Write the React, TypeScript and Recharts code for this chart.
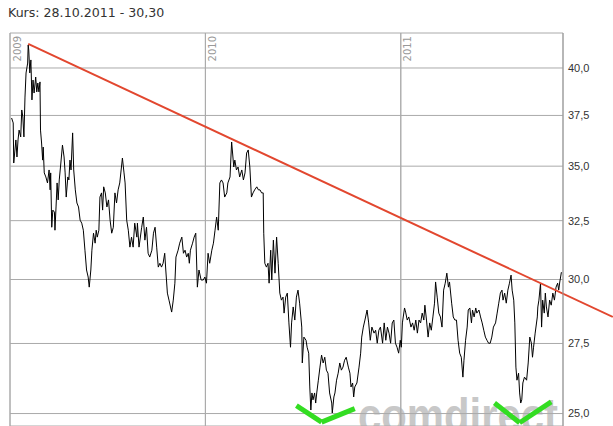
import React from "react";
import { LineChart, Line, XAxis, YAxis, CartesianGrid, ReferenceLine } from "recharts";

// days counted from 01.01.2009
const priceDays = [
  3, 6, 7, 11, 13, 15, 17, 20, 22, 24, 26, 28, 30, 33, 34, 35, 37, 39, 41, 43, 45, 48, 50, 52, 54, 56, 57, 59, 61, 62,
  64, 67, 70, 73, 75, 76, 78, 80, 83, 84, 86, 88, 90, 92, 95, 98, 101, 103, 105, 108, 110, 112, 114, 117, 119, 122, 125,
  128, 131, 134, 137, 140, 143, 146, 148, 151, 153, 156, 159, 161, 163, 166, 168, 171, 173, 175, 178, 181, 184, 187, 190,
  193, 196, 199, 202, 205, 209, 210, 213, 215, 218, 221, 224, 227, 230, 233, 237, 238, 241, 246, 249, 252, 255, 258, 261,
  265, 268, 271, 274, 277, 280, 283, 286, 289, 291, 294, 297, 302, 305, 308, 310, 314, 317, 321, 324, 327, 330, 333, 335,
  337, 341, 344, 347, 350, 353, 357, 361, 364, 367, 370, 373, 377, 380, 383, 386, 389, 392, 395, 398, 401, 405, 407, 411,
  414, 418, 420, 423, 426, 429, 433, 436, 439, 442, 445, 448, 451, 454, 457, 461, 464, 467, 470, 473, 474, 476, 479, 482,
  484, 487, 489, 492, 495, 498, 501, 504, 507, 510, 512, 515, 518, 521, 524, 526, 529, 532, 535, 538, 541, 545, 546, 549,
  553, 555, 558, 560, 562, 564, 566, 569, 571, 573, 576, 579, 582, 585, 588, 591, 594, 597, 601, 602, 605, 607, 610, 613,
  616, 619, 622, 625, 628, 632, 635, 637, 640, 642, 644, 648, 652, 655, 657, 660, 663, 667, 670, 673, 676, 680, 683, 686,
  689, 692, 696, 699, 702, 705, 708, 711, 714, 717, 720, 723, 726, 729, 731, 733, 737, 739, 742, 745, 749, 752, 755, 758,
  761, 764, 767, 770, 773, 775, 778, 781, 784, 787, 790, 793, 795, 798, 801, 804, 807, 810, 813, 816, 819, 821, 825, 828,
  831, 834, 837, 840, 843, 846, 848, 851, 854, 856, 859, 862, 864, 867, 870, 872, 876, 879, 882, 885, 888, 891, 894, 897,
  900, 903, 907, 910, 913, 916, 919, 921, 924, 927, 930, 933, 936, 938, 941, 943, 945, 947, 950, 952, 954, 956, 958, 961,
  965, 968, 971, 974, 976, 978, 981, 985, 986, 988, 991, 993, 995, 998, 1000, 1002, 1005, 1008, 1011, 1014, 1017, 1020,
  1023, 1025, 1027, 1030,
];

const priceValues = [
  37.37, 37.12, 35.15, 36.27, 35.44, 36.27, 36.76, 36.42, 37.78, 37.42, 36.42, 38.45, 39.73, 40.27, 41.27, 40.99, 39.73,
  40.44, 38.3, 39.35, 38.66, 39.51, 38.72, 39.19, 38.72, 39.25, 36.76, 36.12, 35.29, 35.92, 34.68, 34.49, 34.21, 34.82,
  33.89, 34.68, 32.21, 32.97, 32.88, 32.08, 33.11, 34.21, 33.43, 34.35, 35.15, 36.02, 35.44, 34.68, 33.56, 34.49, 34.35,
  35.29, 34.82, 36.62, 34.82, 33.89, 33.29, 33.11, 32.52, 32.39, 32.08, 31.22, 30.39, 30.1, 29.69, 30.39, 31.22, 31.95,
  31.52, 32.08, 31.78, 32.08, 33.56, 33.75, 32.97, 34.03, 33.75, 33.11, 33.43, 32.52, 31.95, 32.21, 33.75, 33.29, 33.89,
  34.21, 35.15, 35.39, 34.68, 34.21, 32.52, 32.08, 31.35, 31.78, 31.35, 32.39, 31.78, 32.39, 31.35, 32.21, 32.66, 31.65,
  32.21, 31.09, 30.93, 31.22, 31.95, 32.21, 31.35, 30.51, 30.67, 30.51, 30.67, 31.09, 30.39, 29.45, 29.17, 28.7, 29.17,
  29.85, 30.93, 31.22, 31.52, 31.78, 31.09, 31.22, 30.93, 31.09, 30.67, 31.22, 31.52, 31.78, 31.95, 29.69, 30.39, 29.98,
  29.98, 30.1, 29.85, 31.09, 30.67, 31.22, 31.52, 32.08, 32.66, 32.08, 34.21, 34.35, 34.21, 33.56, 33.75, 34.21, 34.49,
  36.17, 34.96, 35.29, 34.82, 34.96, 34.49, 34.82, 34.35, 34.68, 35.63, 35.78, 34.96, 33.56, 33.75, 33.89, 34.03, 33.89,
  33.89, 33.75, 33.75, 31.95, 30.67, 30.51, 30.67, 29.85, 31.22, 29.98, 31.65, 30.26, 31.78, 30.67, 29.45, 29.17, 29.29,
  28.66, 29.29, 29.45, 28.28, 27.36, 28.28, 28.9, 28.39, 29.29, 29.57, 29.05, 28.12, 26.78, 27.74, 27.62, 27.36, 27.14,
  25.92, 25.12, 25.71, 25.47, 25.71, 25.36, 25.71, 26.16, 26.63, 27.07, 26.78, 26.99, 26.52, 26.41, 25.71, 25.36, 25.02,
  25.57, 25.71, 26.16, 26.41, 26.78, 26.52, 26.63, 26.88, 26.99, 26.63, 26.41, 25.92, 26.06, 25.57, 25.92, 26.06, 26.63,
  27.14, 27.74, 28.12, 28.39, 28.78, 28.28, 27.62, 28.12, 27.89, 28.0, 27.51, 28.0, 28.12, 27.51, 28.28, 27.62, 28.12,
  27.89, 27.51, 28.28, 28.39, 27.51, 27.36, 27.14, 27.62, 27.36, 28.28, 28.86, 28.7, 28.39, 28.51, 28.12, 28.28, 28.0,
  28.39, 27.89, 28.39, 28.28, 28.66, 28.39, 28.97, 28.39, 27.74, 28.28, 28.0, 28.51, 29.05, 29.9, 29.29, 28.66, 28.51,
  28.12, 29.57, 29.85, 30.26, 29.69, 29.9, 29.05, 28.51, 28.39, 28.39, 27.62, 27.14, 26.99, 26.27, 26.88, 27.62, 28.12,
  28.78, 28.86, 28.28, 28.78, 28.51, 28.86, 28.66, 28.78, 28.51, 28.28, 28.0, 27.74, 27.62, 27.51, 27.51, 27.74, 28.12,
  28.28, 28.66, 29.05, 29.45, 29.57, 29.17, 29.45, 29.05, 29.57, 29.85, 30.18, 29.57, 29.17, 28.28, 26.63, 26.16, 26.41,
  25.71, 25.36, 25.47, 26.06, 26.27, 26.16, 26.78, 27.74, 27.51, 26.99, 27.36, 27.89, 28.51, 28.9, 29.17, 29.85, 28.12,
  29.17, 28.66, 29.45, 28.9, 28.51, 29.17, 28.97, 29.45, 29.17, 29.69, 29.85, 29.57, 29.9, 30.3,
];

const yearTicks = [0, 365, 730];
const yearLabels = ["2009", "2010", "2011"];
const priceTicks = [25, 27.5, 30, 32.5, 35, 37.5, 40];

// hand drawn trend line and the two marks at the lows
const trendDays = [34, 1126];
const trendValues = [41.33, 28.51];
const checkOneDays = [535, 582, 644];
const checkOneValues = [25.27, 24.71, 25.17];
const checkTwoDays = [905, 952, 1011];
const checkTwoValues = [25.36, 24.69, 25.4];

const data = priceDays.map((d, i) => ({ day: d, price: priceValues[i] }));

const TOP = 33;

const YearLabel = (props: any) => {
  const { viewBox, value } = props;
  const tx = viewBox.x + 10.5;
  const ty = viewBox.y + 3;
  return (
    <text
      x={tx}
      y={ty}
      transform={`rotate(-90, ${tx}, ${ty})`}
      textAnchor="end"
      fill="#999"
      fontSize={10}
      fontFamily="DejaVu Sans"
    >
      {value}
    </text>
  );
};

const segs = (days: number[], vals: number[]) =>
  days.slice(1).map((d, i) => [
    { x: days[i], y: vals[i] },
    { x: d, y: vals[i + 1] },
  ]);

export default function App() {
  return (
    <div style={{ position: "fixed", left: 0, top: 0, width: 613, height: 426, overflow: "hidden", background: "#fff" }}>
      <svg width={613} height={426} style={{ position: "absolute", left: 0, top: 0 }}>
        <text x={8} y={17} fontFamily="DejaVu Sans" fontSize={12.6} fill="#333">
          Kurs: 28.10.2011 - 30,30
        </text>
        <text
          x={358}
          y={432}
          fontFamily="Liberation Sans"
          fontWeight="bold"
          fontSize={48}
          fill="#c8c8c8"
          textLength={200}
          lengthAdjust="spacingAndGlyphs"
        >
          comdirect
        </text>
      </svg>
      <div style={{ position: "absolute", left: 0, top: 0 }}>
        <LineChart width={613} height={426} data={data} margin={{ top: TOP, right: 0, bottom: 0, left: 10 }}>
          <CartesianGrid stroke="#aaa" />
          <XAxis
            dataKey="day"
            type="number"
            domain={[0, 1033]}
            ticks={yearTicks}
            hide
            allowDataOverflow
          />
          <YAxis
            orientation="right"
            scale="log"
            domain={[24.58, 41.95]}
            allowDataOverflow
            ticks={priceTicks}
            tickFormatter={(v: number) => v.toFixed(1).replace(".", ",")}
            axisLine={{ stroke: "#999" }}
            tickLine={false}
            tickSize={5}
            tickMargin={0}
            width={50}
            tick={{ fill: "#333", fontSize: 11, fontFamily: "Liberation Sans" }}
          />
          {yearTicks.map((d, i) => (
            <ReferenceLine
              key={"y" + i}
              x={d}
              stroke="#aaa"
              label={<YearLabel value={yearLabels[i]} />}
            />
          ))}
          <Line
            type="linear"
            dataKey="price"
            stroke="#000"
            strokeWidth={1}
            dot={false}
            isAnimationActive={false}
          />
          {segs(trendDays, trendValues).map((s, i) => (
            <ReferenceLine key={"t" + i} segment={s} stroke="#e2472f" strokeWidth={2} ifOverflow="visible" />
          ))}
          {segs(checkOneDays, checkOneValues).map((s, i) => (
            <ReferenceLine key={"a" + i} segment={s} stroke="#33dd22" strokeWidth={5} ifOverflow="visible" />
          ))}
          {segs(checkTwoDays, checkTwoValues).map((s, i) => (
            <ReferenceLine key={"b" + i} segment={s} stroke="#33dd22" strokeWidth={5} ifOverflow="visible" />
          ))}
        </LineChart>
      </div>
    </div>
  );
}
